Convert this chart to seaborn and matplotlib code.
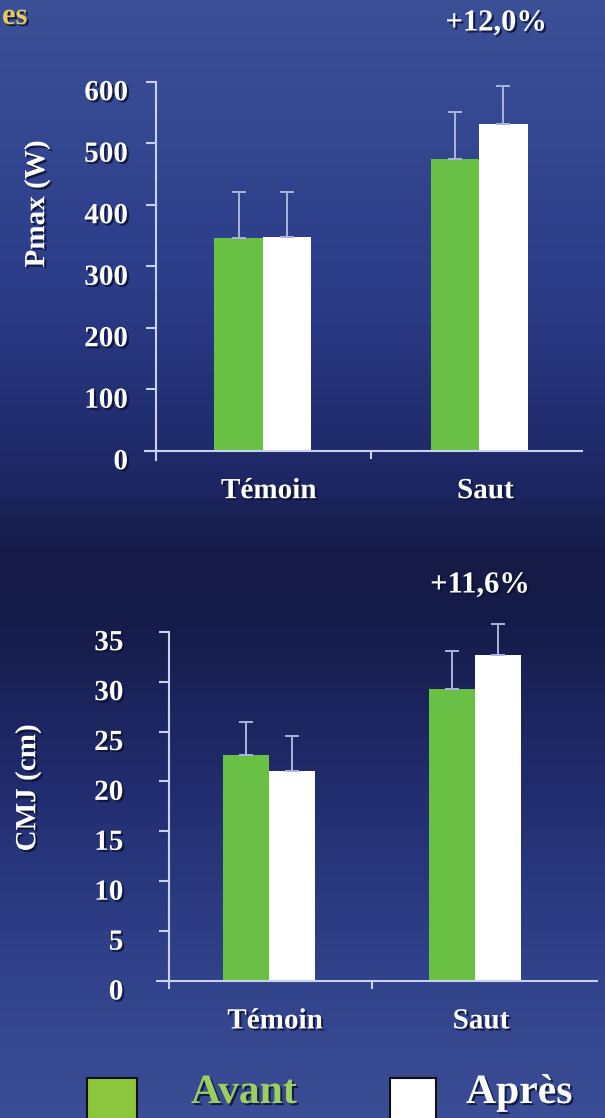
"""Pmax and CMJ before/after comparison, control vs jump group."""

import numpy as np
import pandas as pd
import matplotlib
matplotlib.use('Agg')
import matplotlib.pyplot as plt
import matplotlib.patheffects as pe
import matplotlib.transforms as mtransforms
from matplotlib.colors import LinearSegmentedColormap
from matplotlib.patches import Rectangle
import seaborn as sns

# data
GROUPS = ["Témoin", "Saut"]
PHASES = ["Avant", "Après"]

PMAX_AVANT = [346, 474]
PMAX_APRES = [347, 532]
PMAX_ERR_AVANT = [75, 77]
PMAX_ERR_APRES = [74, 61]
PMAX_TICKS = [0, 100, 200, 300, 400, 500, 600]

CMJ_AVANT = [22.6, 29.3]
CMJ_APRES = [21.0, 32.7]
CMJ_ERR_AVANT = [3.4, 3.8]
CMJ_ERR_APRES = [3.5, 3.1]
CMJ_TICKS = [0, 5, 10, 15, 20, 25, 30, 35]

GAIN_PMAX = "+12,0%"
GAIN_CMJ = "+11,6%"

GREEN = "#6abf45"
LEGEND_GREEN = "#8cc63f"
AXIS_COLOR = "#c9d1f0"
ERR_COLOR = "#a9b5dc"
W, H = 605, 1118

sns.set_theme(style="white")
plt.rcParams['font.family'] = ['Liberation Serif', 'DejaVu Serif']
plt.rcParams['font.weight'] = 'bold'

shadow = [pe.SimplePatchShadow(offset=(1.5, -1.5), shadow_rgbFace="#0a0f30", alpha=0.8), pe.Normal()]


def fx(px):
    return px / W


def fy(px):
    return 1 - px / H


def draw_panel(ax, avant, apres, err_avant, err_apres, ticks, ylim, xlim, spine_x, ypad):
    df = pd.DataFrame({
        "groupe": GROUPS * 2,
        "phase": [PHASES[0]] * len(GROUPS) + [PHASES[1]] * len(GROUPS),
        "valeur": list(avant) + list(apres),
    })
    sns.barplot(data=df, x="groupe", y="valeur", hue="phase", order=GROUPS,
                hue_order=PHASES, palette=[GREEN, "white"], saturation=1,
                width=0.445, gap=0, linewidth=0, errorbar=None, legend=False, ax=ax)

    # one-sided error bars on top of each bar
    for cont, errs in zip(ax.containers, [err_avant, err_apres]):
        xs = [b.get_x() + b.get_width() / 2 for b in cont]
        ys = [b.get_height() for b in cont]
        eb = ax.errorbar(xs, ys, yerr=[np.zeros(len(errs)), errs], fmt="none",
                         ecolor=ERR_COLOR, elinewidth=1.4, capsize=5, capthick=1.4)
        for art in eb.lines[1] + eb.lines[2]:
            art.set_clip_on(False)

    ax.set_facecolor("none")
    ax.set_xlim(*xlim)
    ax.set_ylim(*ylim)
    ax.set_xlabel("")
    ax.set_ylabel("")
    for s in ["top", "right"]:
        ax.spines[s].set_visible(False)
    ax.spines["left"].set_position(("data", spine_x))
    ax.spines["bottom"].set_position(("data", 0))
    ax.spines["left"].set_bounds(ylim[0], ticks[-1])
    for s in ["left", "bottom"]:
        ax.spines[s].set_color(AXIS_COLOR)
        ax.spines[s].set_linewidth(1.5)

    ax.set_yticks(ticks)
    ax.set_yticklabels([str(t) for t in ticks])
    ax.tick_params(axis="y", direction="out", length=7, width=1.5, color=AXIS_COLOR,
                   labelcolor="white", labelsize=21, pad=ypad, left=True)
    ax.set_xticks(range(len(GROUPS)))
    ax.set_xticklabels(GROUPS)
    ax.set_xticks([0.5], minor=True)
    ax.tick_params(axis="x", which="major", length=0, labelcolor="white", labelsize=21, pad=19)
    ax.tick_params(axis="x", which="minor", direction="out", length=6, width=1.5,
                   color=AXIS_COLOR, bottom=True)

    offset = mtransforms.ScaledTranslation(0, -8 / 100, ax.figure.dpi_scale_trans)
    for lab in ax.get_yticklabels():
        lab.set_transform(lab.get_transform() + offset)
        lab.set_path_effects(shadow)
    xoff = mtransforms.ScaledTranslation(6 / 100, 0, ax.figure.dpi_scale_trans)
    for lab in ax.get_xticklabels():
        lab.set_transform(lab.get_transform() + xoff)
        lab.set_path_effects(shadow)


fig = plt.figure(figsize=(W / 100, H / 100), dpi=100)

# slide background gradient
bg = fig.add_axes([0, 0, 1, 1], zorder=-5)
cmap = LinearSegmentedColormap.from_list("slide", [
    (0.0, "#3c5098"), (0.25, "#2c3d89"), (0.42, "#1e2867"), (0.50, "#151b45"),
    (0.56, "#161c4a"), (0.70, "#212c6e"), (0.85, "#2f4088"), (1.0, "#3b4d96")])
bg.imshow(np.linspace(0, 1, 256).reshape(-1, 1), aspect="auto", cmap=cmap,
          extent=[0, 1, 0, 1], origin="upper")
bg.axis("off")

ax1 = fig.add_axes([fx(145), fy(460), fx(582) - fx(145), fy(81.7) - fy(460)])
draw_panel(ax1, PMAX_AVANT, PMAX_APRES, PMAX_ERR_AVANT, PMAX_ERR_APRES, PMAX_TICKS,
           (-15, 600), (-0.543, 1.474), -0.493, 13)

ax2 = fig.add_axes([fx(156.7), fy(988), fx(596.7) - fx(156.7), fy(631.7) - fy(988)])
draw_panel(ax2, CMJ_AVANT, CMJ_APRES, CMJ_ERR_AVANT, CMJ_ERR_APRES, CMJ_TICKS,
           (-0.7, 35), (-0.545, 1.591), -0.484, 26)

# y labels
fig.text(fx(37), fy(204), "Pmax (W)", rotation=90, ha="center", va="center",
         color="white", fontsize=21, path_effects=shadow)
fig.text(fx(28), fy(788), "CMJ (cm)", rotation=90, ha="center", va="center",
         color="white", fontsize=21, path_effects=shadow)

# gains
fig.text(fx(496), fy(23), GAIN_PMAX, ha="center", va="center", color="white",
         fontsize=22, path_effects=shadow)
fig.text(fx(480), fy(585), GAIN_CMJ, ha="center", va="center", color="white",
         fontsize=22, path_effects=shadow)

# remnant of the slide title, top-left
fig.text(fx(2), fy(2), "es", ha="left", va="top", color="#e8c860",
         fontsize=22, path_effects=shadow)

# legend
fig.add_artist(Rectangle((fx(87), -0.02), fx(137) - fx(87), fy(1078) + 0.02,
                         transform=fig.transFigure, facecolor=LEGEND_GREEN,
                         edgecolor="#111111", linewidth=1.5))
fig.add_artist(Rectangle((fx(390), -0.02), fx(436) - fx(390), fy(1078) + 0.02,
                         transform=fig.transFigure, facecolor="white",
                         edgecolor="#111111", linewidth=1.5))
fig.text(fx(191), fy(1074), PHASES[0], ha="left", va="top", color="#9ccf5e",
         fontsize=30, path_effects=shadow)
fig.text(fx(466), fy(1074), PHASES[1], ha="left", va="top", color="white",
         fontsize=30, path_effects=shadow)

fig.savefig("out.png", dpi=100)
plt.close(fig)
